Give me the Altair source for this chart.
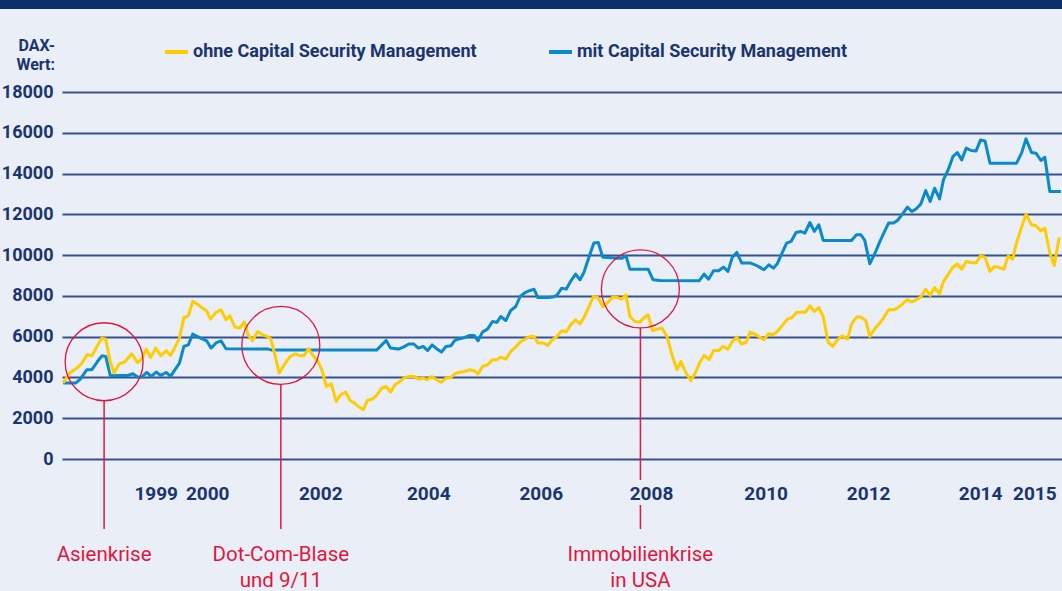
import altair as alt
import pandas as pd

# ---------------- data ----------------
yellow_year = [
    1997.74, 1997.86, 1997.99, 1998.08, 1998.17, 1998.26, 1998.35, 1998.44, 1998.51, 1998.59,
    1998.66, 1998.75, 1998.86, 1998.98, 1999.08, 1999.16, 1999.24, 1999.32, 1999.41, 1999.51,
    1999.60, 1999.68, 1999.76, 1999.84, 1999.92, 2000.00, 2000.08, 2000.16, 2000.24, 2000.33,
    2000.40, 2000.50, 2000.59, 2000.68, 2000.75, 2000.84, 2000.93, 2001.01, 2001.08, 2001.16,
    2001.25, 2001.34, 2001.42, 2001.49, 2001.57, 2001.64, 2001.75, 2001.84, 2001.93, 2002.02,
    2002.09, 2002.17, 2002.24, 2002.33, 2002.41, 2002.49, 2002.58, 2002.67, 2002.75, 2002.84,
    2002.92, 2003.00, 2003.08, 2003.16, 2003.23, 2003.32, 2003.40, 2003.49, 2003.57, 2003.65,
    2003.73, 2003.82, 2003.89, 2003.98, 2004.07, 2004.16, 2004.24, 2004.31, 2004.39, 2004.48,
    2004.57, 2004.65, 2004.74, 2004.81, 2004.90, 2004.99, 2005.08, 2005.16, 2005.23, 2005.31,
    2005.40, 2005.49, 2005.57, 2005.64, 2005.73, 2005.82, 2005.91, 2005.99, 2006.08, 2006.17,
    2006.24, 2006.31, 2006.41, 2006.49, 2006.57, 2006.65, 2006.74, 2006.82, 2006.90, 2006.99,
    2007.07, 2007.14, 2007.24, 2007.31, 2007.39, 2007.48, 2007.57, 2007.66, 2007.75, 2007.82,
    2007.90, 2007.97, 2008.06, 2008.15, 2008.23, 2008.30, 2008.38, 2008.47, 2008.55, 2008.64,
    2008.73, 2008.82, 2008.89, 2008.98, 2009.07, 2009.15, 2009.24, 2009.31, 2009.40, 2009.48,
    2009.57, 2009.65, 2009.74, 2009.82, 2009.90, 2009.98, 2010.07, 2010.14, 2010.22, 2010.31,
    2010.39, 2010.47, 2010.55, 2010.63, 2010.73, 2010.82, 2010.90, 2010.98, 2011.06, 2011.14,
    2011.22, 2011.30, 2011.38, 2011.46, 2011.55, 2011.63, 2011.72, 2011.80, 2011.90, 2011.97,
    2012.06, 2012.14, 2012.23, 2012.30, 2012.40, 2012.49, 2012.56, 2012.64, 2012.73, 2012.80,
    2012.89, 2012.97, 2013.06, 2013.14, 2013.22, 2013.31, 2013.39, 2013.47, 2013.56, 2013.63,
    2013.72, 2013.80, 2013.88, 2013.96, 2014.04, 2014.13, 2014.22, 2014.30, 2014.38, 2014.47,
    2014.55, 2014.64, 2014.72, 2014.80, 2014.88, 2014.95, 2015.04, 2015.12, 2015.22, 2015.30,
    2015.39, 2015.46, 2015.55, 2015.63, 2015.72,
]
yellow_value = [
    3730, 4215, 4460, 4700, 5110, 5060, 5520, 5930, 5880, 4780,
    4215, 4650, 4780, 5160, 4735, 4900, 5390, 4980, 5440, 5060,
    5320, 5080, 5490, 5930, 6940, 7020, 7730, 7610, 7430, 7270,
    6860, 7190, 7320, 6830, 7020, 6470, 6420, 6720, 6090, 5810,
    6250, 6090, 6010, 5880, 5030, 4215, 4700, 5030, 5160, 5060,
    5080, 5410, 5110, 4830, 4380, 3560, 3680, 2820, 3150, 3280,
    2870, 2745, 2550, 2420, 2870, 2940, 3120, 3480, 3560, 3280,
    3640, 3800, 3970, 4050, 4050, 3920, 3970, 3890, 4050, 3890,
    3755, 3970, 4000, 4180, 4260, 4290, 4380, 4330, 4170, 4540,
    4620, 4870, 4870, 5000, 4900, 5275, 5490, 5735, 5880, 6010,
    6010, 5690, 5690, 5570, 5850, 6010, 6290, 6230, 6580, 6830,
    6630, 6940, 7515, 7970, 7920, 7480, 7675, 7940, 7920, 7840,
    8050, 6990, 6745, 6715, 6940, 7070, 6300, 6370, 6420, 6010,
    5110, 4380, 4780, 4245, 3840, 4215, 4780, 5080, 4870, 5320,
    5320, 5520, 5390, 5765, 5980, 5650, 5715, 6225, 6140, 5980,
    5850, 6140, 6090, 6255, 6580, 6875, 6940, 7200, 7200, 7200,
    7515, 7235, 7430, 6990, 5715, 5520, 5850, 6045, 5880, 6620,
    6960, 6960, 6780, 6010, 6420, 6700, 6960, 7320, 7320, 7400,
    7600, 7810, 7710, 7810, 7940, 8330, 8020, 8410, 8100, 8710,
    9070, 9410, 9560, 9310, 9690, 9640, 9610, 9965, 9900, 9200,
    9440, 9390, 9310, 9965, 9800, 10620, 11370, 12010, 11490, 11440,
    11190, 11320, 10100, 9490, 10880,
]

blue_year = [
    1997.74, 1997.97, 1998.05, 1998.17, 1998.26, 1998.36, 1998.44, 1998.51, 1998.59, 1998.74,
    1998.91, 1999.00, 1999.08, 1999.16, 1999.25, 1999.33, 1999.42, 1999.50, 1999.60, 1999.68,
    1999.76, 1999.84, 1999.92, 2000.00, 2000.08, 2000.16, 2000.24, 2000.33, 2000.41, 2000.50,
    2000.59, 2000.68, 2001.44, 2001.51, 2003.40, 2003.57, 2003.65, 2003.79, 2003.88, 2003.98,
    2004.07, 2004.15, 2004.24, 2004.32, 2004.40, 2004.48, 2004.57, 2004.65, 2004.74, 2004.81,
    2004.90, 2004.99, 2005.08, 2005.16, 2005.23, 2005.31, 2005.40, 2005.49, 2005.57, 2005.64,
    2005.73, 2005.82, 2005.91, 2005.99, 2006.08, 2006.17, 2006.24, 2006.31, 2006.50, 2006.58,
    2006.65, 2006.74, 2006.82, 2006.90, 2006.99, 2007.07, 2007.14, 2007.24, 2007.32, 2007.40,
    2007.48, 2007.57, 2007.75, 2007.83, 2007.90, 2007.97, 2008.30, 2008.39, 2008.51, 2009.22,
    2009.31, 2009.39, 2009.48, 2009.57, 2009.66, 2009.74, 2009.82, 2009.90, 2009.99, 2010.15,
    2010.23, 2010.31, 2010.39, 2010.48, 2010.56, 2010.63, 2010.71, 2010.80, 2010.88, 2010.97,
    2011.05, 2011.13, 2011.22, 2011.30, 2011.38, 2011.46, 2011.97, 2012.06, 2012.14, 2012.21,
    2012.30, 2012.40, 2012.47, 2012.54, 2012.64, 2012.73, 2012.80, 2012.89, 2012.98, 2013.06,
    2013.14, 2013.22, 2013.31, 2013.39, 2013.47, 2013.56, 2013.63, 2013.72, 2013.80, 2013.88,
    2013.96, 2014.04, 2014.13, 2014.22, 2014.30, 2014.38, 2014.47, 2014.95, 2015.04, 2015.12,
    2015.22, 2015.30, 2015.39, 2015.46, 2015.55, 2015.75,
]
blue_value = [
    3730, 3730, 3920, 4380, 4380, 4780, 5060, 5030, 4100, 4100,
    4100, 4180, 4020, 4020, 4245, 4050, 4265, 4100, 4245, 4050,
    4380, 4700, 5520, 5600, 6130, 6010, 5900, 5800, 5440, 5690,
    5800, 5410, 5390, 5340, 5340, 5815, 5440, 5390, 5490, 5640,
    5640, 5440, 5520, 5320, 5600, 5410, 5245, 5520, 5550, 5815,
    5900, 5960, 6060, 6060, 5800, 6225, 6370, 6745, 6700, 6990,
    6795, 7285, 7480, 7970, 8165, 8265, 8330, 7920, 7920, 7940,
    8020, 8380, 8330, 8710, 9070, 8790, 9150, 9965, 10590, 10620,
    9900, 9880, 9850, 9850, 9965, 9310, 9310, 8790, 8755, 8740,
    9070, 8820, 9230, 9230, 9410, 9200, 9900, 10130, 9610, 9610,
    9525, 9410, 9280, 9525, 9360, 9575, 10065, 10590, 10670, 11110,
    11160, 11080, 11600, 11160, 11490, 10720, 10720, 11000, 11000, 10720,
    9575, 10130, 10590, 11000, 11570, 11570, 11700, 12010, 12350, 12140,
    12270, 12500, 13170, 12630, 13280, 12760, 13690, 14215, 14830, 15030,
    14670, 15245, 15130, 15110, 15650, 15600, 14510, 14510, 15000, 15700,
    15030, 15000, 14640, 14800, 13120, 13120,
]

series_names = ["ohne Capital Security Management", "mit Capital Security Management"]
y_ticks = [0, 2000, 4000, 6000, 8000, 10000, 12000, 14000, 16000, 18000]
year_labels = ["1999", "2000", "2002", "2004", "2006", "2008", "2010", "2012", "2014", "2015"]
year_label_pos = [1999.42, 2000.35, 2002.39, 2004.34, 2006.37, 2008.36, 2010.43, 2012.28, 2014.30, 2015.28]

event_line1 = ["Asienkrise", "Dot-Com-Blase", "Immobilienkrise"]
event_line2 = ["", "und 9/11", "in USA"]
event_year = [1998.48, 2001.67, 2008.16]
event_center = [4770, 5570, 8340]

axis_title_lines = ["DAX-", "Wert:"]

# ---------------- styling ----------------
BG = "#EAEEF7"
NAVY = "#1A3470"
GRID = "#36528E"
BAR = "#0C2D6B"
RED = "#E0163F"
YELLOW = "#FFCC00"
BLUE = "#0A8ACB"
FONT = "Roboto"
W, H = 1000, 367
CIRCLE_R = 1913  # circle radius expressed in DAX units (39 px)

xs = alt.Scale(domain=[1997.72, 2015.77], nice=False, zero=False)
ys = alt.Scale(domain=[0, 18000], nice=False, zero=False)

df_y = pd.DataFrame({"year": yellow_year, "value": yellow_value, "series": series_names[0]})
df_b = pd.DataFrame({"year": blue_year, "value": blue_value, "series": series_names[1]})
ev = pd.DataFrame({"year": event_year, "center": event_center,
                   "line1": event_line1, "line2": event_line2})
yl = pd.DataFrame({"label": year_labels, "pos": year_label_pos})
one = pd.DataFrame({"k": [0]})

y_axis = alt.Axis(values=y_ticks, format="d", grid=True, gridColor=GRID, gridWidth=2,
                  domain=False, ticks=False, labelFont=FONT, labelFontWeight="bold",
                  labelFontSize=18, labelColor=NAVY, labelPadding=9, title=None)


def X(field):
    return alt.X(field, scale=xs, axis=None)


def Y(field):
    return alt.Y(field, scale=ys, axis=y_axis)


def line_layer(df, color):
    return alt.Chart(df).mark_line(strokeWidth=3, color=color, strokeJoin="round").encode(
        x=X("year:Q"), y=Y("value:Q"))


blue_line = line_layer(df_b, BLUE)
yellow_line = line_layer(df_y, YELLOW)

circles = alt.Chart(ev).mark_point(shape="circle", size=78 * 78, filled=False,
                                   color=RED, strokeWidth=1.3, opacity=1).encode(
    x=X("year:Q"), y=Y("center:Q"))

rule_upper = alt.Chart(ev).transform_calculate(bottom=f"datum.center - {CIRCLE_R}").mark_rule(
    color=RED, strokeWidth=1.5).encode(x=X("year:Q"), y=Y("bottom:Q"), y2=alt.value(388))
rule_mid = alt.Chart(ev).transform_filter("datum.line1 != 'Immobilienkrise'").mark_rule(
    color=RED, strokeWidth=1.5).encode(x=X("year:Q"), y=alt.value(388), y2=alt.value(413))
rule_lower = alt.Chart(ev).mark_rule(color=RED, strokeWidth=1.5).encode(
    x=X("year:Q"), y=alt.value(413), y2=alt.value(437))

ev_text1 = alt.Chart(ev).mark_text(font=FONT, fontSize=20.5, color=RED, align="center",
                                   baseline="middle").encode(
    x=X("year:Q"), y=alt.value(463), text="line1:N")
ev_text2 = alt.Chart(ev).mark_text(font=FONT, fontSize=20.5, color=RED, align="center",
                                   baseline="middle").encode(
    x=X("year:Q"), y=alt.value(489), text="line2:N")

year_text = alt.Chart(yl).mark_text(font=FONT, fontSize=19, fontWeight="bold", color=NAVY,
                                    align="center", baseline="middle").encode(
    x=X("pos:Q"), y=alt.value(402), text="label:N")

top_bar = alt.Chart(one).mark_rect(color=BAR).encode(
    x=alt.value(-62), x2=alt.value(W), y=alt.value(-92), y2=alt.value(-83))

title_layers = []
for txt, yv in zip(axis_title_lines, [-46, -27]):
    title_layers.append(alt.Chart(pd.DataFrame({"t": [txt]})).mark_text(
        font=FONT, fontSize=16, fontWeight="bold", color=NAVY, align="right", baseline="middle"
    ).encode(x=alt.value(-7), y=alt.value(yv), text="t:N"))

legend_layers = []
for name, col, x0 in zip(series_names, [YELLOW, BLUE], [103, 487]):
    d = pd.DataFrame({"series": [name]})
    legend_layers.append(alt.Chart(d).mark_rule(color=col, strokeWidth=4).encode(
        x=alt.value(x0), x2=alt.value(x0 + 23), y=alt.value(-40)))
    legend_layers.append(alt.Chart(d).mark_text(font=FONT, fontSize=18, fontWeight="bold",
                                                color=NAVY, align="left", baseline="middle").encode(
        x=alt.value(x0 + 28), y=alt.value(-40), text="series:N"))

chart = alt.layer(
    top_bar, blue_line, yellow_line, circles, rule_upper, rule_mid, rule_lower,
    ev_text1, ev_text2, year_text, *title_layers, *legend_layers
).properties(
    width=W, height=H,
    padding={"left": 62, "top": 92, "right": 0, "bottom": 132},
    autosize=alt.AutoSizeParams(type="none"),
    background=BG,
).configure_view(stroke=None)

chart.save("out.html", embed_options={"renderer": "svg", "actions": False})
